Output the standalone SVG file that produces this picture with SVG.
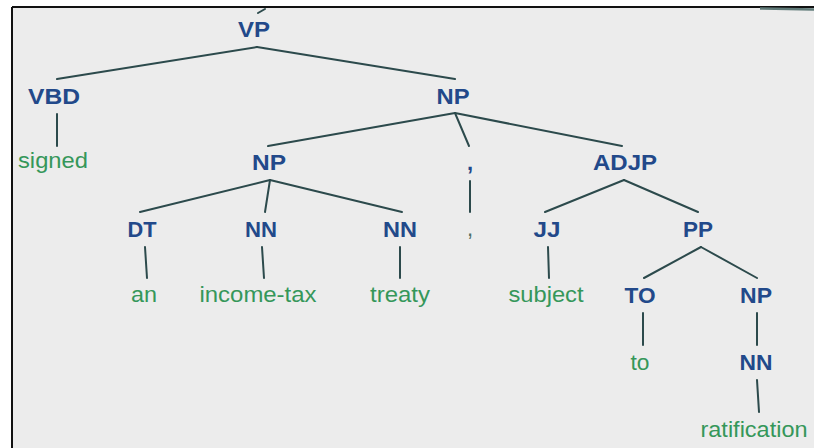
<svg xmlns="http://www.w3.org/2000/svg" width="814" height="448" viewBox="0 0 814 448">
<style>
.tag{font-family:"Liberation Sans",Arial,sans-serif;font-weight:bold;font-size:22px;fill:#22498a;text-anchor:middle}
.leaf{font-family:"Liberation Sans",Arial,sans-serif;font-size:22px;fill:#35975a;text-anchor:middle}
.edge{stroke:#2c4a4c;stroke-width:2;fill:none;stroke-linecap:round}
</style>
<rect width="814" height="448" fill="#ffffff"/>
<rect x="12" y="7" width="802" height="441" fill="#ececec"/>
<g id="frame">
<line x1="12" y1="7" x2="814" y2="7" stroke="#111" stroke-width="2"/>
<line x1="12" y1="7" x2="12" y2="448" stroke="#111" stroke-width="2"/>
<path d="M760 8.5 L814 9.5" stroke="#5f7a78" stroke-width="2.5" fill="none"/>
</g>
<g id="connectors">
<line class="edge" x1="258" y1="13" x2="265" y2="9"/>
<line class="edge" x1="257" y1="47" x2="57" y2="79"/>
<line class="edge" x1="257" y1="47" x2="455" y2="79"/>
<line class="edge" x1="57" y1="114" x2="57" y2="146"/>
<line class="edge" x1="455" y1="113" x2="268" y2="146"/>
<line class="edge" x1="455" y1="113" x2="469" y2="146"/>
<line class="edge" x1="455" y1="113" x2="622" y2="146"/>
<line class="edge" x1="270" y1="180" x2="140" y2="212"/>
<line class="edge" x1="270" y1="180" x2="265" y2="212"/>
<line class="edge" x1="270" y1="180" x2="402" y2="212"/>
<line class="edge" x1="470" y1="181" x2="470" y2="212"/>
<line class="edge" x1="624" y1="180" x2="545" y2="212"/>
<line class="edge" x1="624" y1="180" x2="698" y2="212"/>
<line class="edge" x1="145" y1="247" x2="147" y2="278"/>
<line class="edge" x1="262" y1="247" x2="264" y2="278"/>
<line class="edge" x1="400" y1="247" x2="400" y2="278"/>
<line class="edge" x1="548" y1="247" x2="549" y2="278"/>
<line class="edge" x1="701" y1="247" x2="644" y2="278"/>
<line class="edge" x1="701" y1="247" x2="757" y2="278"/>
<line class="edge" x1="643" y1="313" x2="643" y2="345"/>
<line class="edge" x1="757" y1="313" x2="757" y2="345"/>
<line class="edge" x1="757" y1="380" x2="759" y2="412"/>
</g>
<g id="n-vp"><text class="tag" x="254" y="37" textLength="32" lengthAdjust="spacingAndGlyphs">VP</text></g>
<g id="n-vbd"><text class="tag" x="54" y="104" textLength="52" lengthAdjust="spacingAndGlyphs">VBD</text></g>
<g id="n-signed"><text class="leaf" x="53" y="168" textLength="70" lengthAdjust="spacingAndGlyphs">signed</text></g>
<g id="n-np1"><text class="tag" x="453" y="104" textLength="33" lengthAdjust="spacingAndGlyphs">NP</text></g>
<g id="n-np2"><text class="tag" x="269" y="170" textLength="34" lengthAdjust="spacingAndGlyphs">NP</text></g>
<g id="n-comma-tag"><text class="tag" x="470" y="170">,</text></g>
<g id="n-adjp"><text class="tag" x="625" y="170" textLength="64" lengthAdjust="spacingAndGlyphs">ADJP</text></g>
<g id="n-dt"><text class="tag" x="142" y="237" textLength="29" lengthAdjust="spacingAndGlyphs">DT</text></g>
<g id="n-nn1"><text class="tag" x="261" y="237" textLength="32" lengthAdjust="spacingAndGlyphs">NN</text></g>
<g id="n-nn2"><text class="tag" x="400" y="237" textLength="34" lengthAdjust="spacingAndGlyphs">NN</text></g>
<g id="n-comma-leaf"><text class="leaf" x="470" y="236" style="fill:#4f6f66">,</text></g>
<g id="n-jj"><text class="tag" x="547" y="237" textLength="27" lengthAdjust="spacingAndGlyphs">JJ</text></g>
<g id="n-pp"><text class="tag" x="698" y="237" textLength="30" lengthAdjust="spacingAndGlyphs">PP</text></g>
<g id="n-an"><text class="leaf" x="144" y="302" textLength="26" lengthAdjust="spacingAndGlyphs">an</text></g>
<g id="n-incometax"><text class="leaf" x="258" y="302" textLength="117" lengthAdjust="spacingAndGlyphs">income-tax</text></g>
<g id="n-treaty"><text class="leaf" x="400" y="302" textLength="60" lengthAdjust="spacingAndGlyphs">treaty</text></g>
<g id="n-subject"><text class="leaf" x="546" y="302" textLength="75" lengthAdjust="spacingAndGlyphs">subject</text></g>
<g id="n-to-tag"><text class="tag" x="640" y="303" textLength="31" lengthAdjust="spacingAndGlyphs">TO</text></g>
<g id="n-np3"><text class="tag" x="756" y="303" textLength="32" lengthAdjust="spacingAndGlyphs">NP</text></g>
<g id="n-to"><text class="leaf" x="640" y="370" textLength="19" lengthAdjust="spacingAndGlyphs">to</text></g>
<g id="n-nn3"><text class="tag" x="756" y="370" textLength="33" lengthAdjust="spacingAndGlyphs">NN</text></g>
<g id="n-ratification"><text class="leaf" x="754" y="437" textLength="107" lengthAdjust="spacingAndGlyphs">ratification</text></g>
</svg>
